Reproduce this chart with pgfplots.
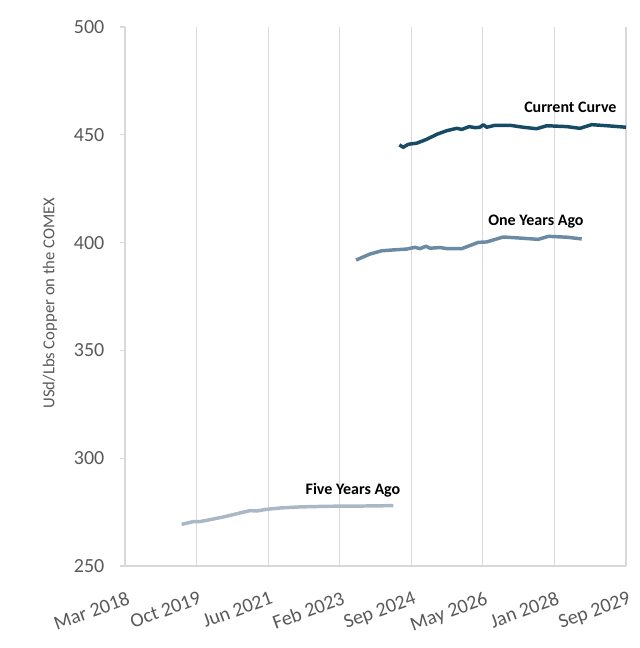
\documentclass[border=0pt]{standalone}
\usepackage{fontspec}
\setmainfont{Carlito}
\usepackage{pgfplots}
\pgfplotsset{compat=1.18}
\definecolor{gridgray}{HTML}{D9D9D9}
\definecolor{txtgray}{HTML}{595959}
\definecolor{curcol}{HTML}{174A64}
\definecolor{onecol}{HTML}{6B8AA4}
\definecolor{fivecol}{HTML}{A9B7C7}
\begin{document}
\begin{tikzpicture}
\begin{axis}[
  scale only axis,
  width=375.75pt, height=404.25pt,
  xmin=0, xmax=4200, ymin=250, ymax=500,
  xtick={0,600,...,4200},
  xticklabels={Mar 2018,Oct 2019,Jun 2021,Feb 2023,Sep 2024,May 2026,Jan 2028,Sep 2029},
  ytick={250,300,...,500},
  axis x line*=bottom, axis y line*=left,
  axis line style={gridgray, line width=0.8pt, -},
  xmajorgrids, major grid style={gridgray, line width=0.8pt},
  major x tick style={draw=none},
  major y tick style={gridgray, line width=0.8pt},
  tick align=outside, major tick length=4pt,
  /pgf/number format/assume math mode=true,
  ticklabel style={font=\fontsize{15}{18}\selectfont, text=txtgray},
  xticklabel style={inner sep=0pt, xshift=1pt, yshift=-14.5pt, rotate=20, anchor=north east},
  yticklabel style={xshift=-8pt},
  ylabel={USd/Lbs Copper on the COMEX},
  ylabel style={font=\fontsize{12.5}{15}\selectfont, text=txtgray, at={(axis description cs:-0.150,0.488)}, anchor=center},
  clip=false,
]
\addplot[fivecol, line width=2.6pt, line join=round] coordinates {
(475,269.3) (573,270.6) (629,270.6) (713,271.5) (838,272.9) (964,274.6) (1048,275.7) (1104,275.5) (1188,276.3) (1299,276.9) (1467,277.4) (1691,277.7) (1970,277.8) (2249,278.0)};
\addplot[onecol, line width=2.6pt, line join=round] coordinates {
(1937,391.9) (2054,394.7) (2152,396.2) (2249,396.6) (2361,397.0) (2431,397.8) (2473,397.2) (2523,398.3) (2557,397.4) (2641,397.7) (2697,397.2) (2823,397.2) (2962,400.1) (3032,400.3) (3171,402.6) (3311,402.1) (3465,401.5) (3549,402.9) (3703,402.5) (3829,401.7)};
\addplot[curcol, line width=2.6pt, line join=round] coordinates {
(2300,445.3) (2333,444.2) (2375,445.6) (2445,446.1) (2529,447.9) (2613,450.2) (2697,451.9) (2781,453.0) (2823,452.5) (2886,453.8) (2934,453.3) (2976,453.5) (3004,454.7) (3032,453.5) (3102,454.4) (3228,454.4) (3339,453.5) (3451,452.8) (3535,454.2) (3703,453.8) (3814,453.0) (3912,454.7) (4066,454.1) (4200,453.5)};
\node[anchor=east, font=\fontsize{12}{14}\selectfont\bfseries] at (axis cs:4160,462.9) {Current Curve};
\node[font=\fontsize{12}{14}\selectfont\bfseries] at (axis cs:3445,409.6) {One Years Ago};
\node[font=\fontsize{12}{14}\selectfont\bfseries] at (axis cs:1911,285.3) {Five Years Ago};
\end{axis}
\pgfresetboundingbox
\path (current axis.south west) ++(-93.75pt,-61.5pt) coordinate (bbA);
\path (current axis.north east) ++(10.5pt,20.25pt) coordinate (bbB);
\path[use as bounding box] (bbA) rectangle (bbB);
\end{tikzpicture}
\end{document}
